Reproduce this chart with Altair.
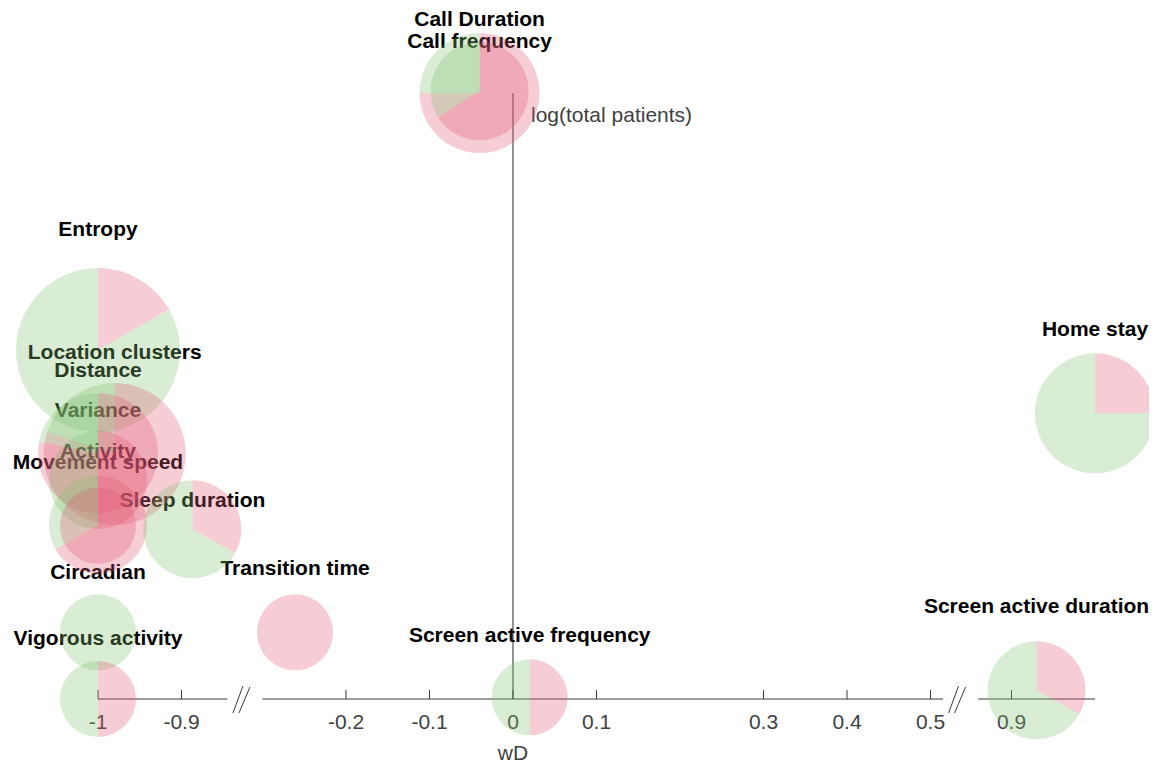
import altair as alt
import pandas as pd

# ---- data ----
names = ["Call frequency", "Call Duration", "Entropy", "Location clusters", "Distance",
         "Variance", "Activity", "Movement speed", "Sleep duration", "Circadian",
         "Vigorous activity", "Transition time", "Screen active frequency",
         "Screen active duration", "Home stay"]
wd = [-0.04, -0.04, -1.0, -0.98, -1.0, -1.0, -1.0, -1.0, -0.887, -1.0,
      -1.0, -0.261, 0.02, 0.93, 1.0]
log_patients = [7.0, 7.02, 4.03, 2.83, 2.84, 2.53, 2.01, 2.0, 1.96, 0.77,
                0.0, 0.77, 0.02, 0.10, 3.30]
n_studies = [3, 2, 5, 4, 3, 2, 2, 1, 2, 1, 1, 1, 1, 2, 3]
pink_share = [0.75, 0.66, 0.167, 0.8, 0.78, 0.5, 0.667, 1.0, 0.33, 0.0,
              0.5, 1.0, 0.5, 0.33, 0.25]
label_y = [7.59, 7.84, 5.42, 4.00, 3.79, 3.33, 2.85, 2.73, 2.29, 1.46,
           0.69, 1.50, 0.73, 1.06, 4.26]

tick_values = [-1, -0.9, -0.2, -0.1, 0, 0.1, 0.3, 0.4, 0.5, 0.9]
tick_labels = ["-1", "-0.9", "-0.2", "-0.1", "0", "0.1", "0.3", "0.4", "0.5", "0.9"]

# broken x axis: kept wD ranges and the gap between them (in wD units)
seg_lo = [-1.0, -0.3, 0.86]
seg_hi = [-0.845, 0.515, 1.0]
GAP = 0.042

shifts = [0.0]
for i in range(1, len(seg_lo)):
    shifts.append(seg_hi[i - 1] + shifts[i - 1] + GAP - seg_lo[i])


def to_display(v):
    for lo, hi, s in zip(seg_lo, seg_hi, shifts):
        if lo - 1e-9 <= v <= hi + 1e-9:
            return v + s
    best = min(range(len(seg_lo)),
               key=lambda i: min(abs(v - seg_lo[i]), abs(v - seg_hi[i])))
    return v + shifts[best]


# ---- tables ----
pie_rows = []
for i, nm in enumerate(names):
    p = pink_share[i]
    base = dict(name=nm, xd=to_display(wd[i]), logp=log_patients[i], n=n_studies[i])
    if p > 0:
        pie_rows.append(dict(base, t0=0.0, t1=p, part="pink"))
    if p < 1:
        pie_rows.append(dict(base, t0=p, t1=1.0, part="green"))
pies = pd.DataFrame(pie_rows)

labels = pd.DataFrame({"name": names, "xd": [to_display(v) for v in wd], "ly": label_y})

ticks = pd.DataFrame({"xd": [to_display(v) for v in tick_values], "lab": tick_labels,
                      "y0": [0] * len(tick_values)})
segs = pd.DataFrame({"x1": [to_display(v) for v in seg_lo],
                     "x2": [to_display(v) for v in seg_hi],
                     "y0": [0] * len(seg_lo)})
breaks = pd.DataFrame({"xd": [(to_display(seg_hi[i]) + to_display(seg_lo[i + 1])) / 2
                              for i in range(len(seg_lo) - 1)],
                       "y0": [0] * (len(seg_lo) - 1)})
yaxis = pd.DataFrame({"xd": [to_display(0.0)], "y0": [0.0], "y1": [7.0]})

xs = alt.Scale(domain=[to_display(seg_lo[0]), to_display(seg_hi[-1])], nice=False, zero=False)
ys = alt.Scale(domain=[0, 7], nice=False, zero=False)
FONT = "Liberation Sans"
AX = "#3a3a3a"

label_layer = alt.Chart(labels).mark_text(
    font=FONT, fontSize=21, fontWeight="bold", color="black", baseline="middle"
).encode(x=alt.X("xd:Q", scale=xs, axis=None), y=alt.Y("ly:Q", scale=ys, axis=None), text="name:N")

seg_layer = alt.Chart(segs).mark_rule(color=AX, strokeWidth=1).encode(
    x=alt.X("x1:Q", scale=xs, axis=None), x2="x2:Q", y=alt.Y("y0:Q", scale=ys, axis=None))

tick_layer = alt.Chart(ticks).mark_rule(color=AX, strokeWidth=1, yOffset=-9, y2Offset=0).encode(
    x=alt.X("xd:Q", scale=xs, axis=None), y=alt.Y("y0:Q", scale=ys, axis=None), y2="y0:Q")

tick_text = alt.Chart(ticks).mark_text(
    font=FONT, fontSize=21, color="#404040", baseline="middle", dy=24
).encode(x=alt.X("xd:Q", scale=xs, axis=None), y=alt.Y("y0:Q", scale=ys, axis=None), text="lab:N")

slash1 = alt.Chart(breaks).mark_rule(color=AX, strokeWidth=1, xOffset=-12, x2Offset=-2,
                                     yOffset=14, y2Offset=-13).encode(
    x=alt.X("xd:Q", scale=xs, axis=None), x2="xd:Q",
    y=alt.Y("y0:Q", scale=ys, axis=None), y2="y0:Q")
slash2 = alt.Chart(breaks).mark_rule(color=AX, strokeWidth=1, xOffset=-6, x2Offset=5,
                                     yOffset=14, y2Offset=-12).encode(
    x=alt.X("xd:Q", scale=xs, axis=None), x2="xd:Q",
    y=alt.Y("y0:Q", scale=ys, axis=None), y2="y0:Q")

y_line = alt.Chart(yaxis).mark_rule(color="#262626", strokeWidth=1).encode(
    x=alt.X("xd:Q", scale=xs, axis=None), y=alt.Y("y0:Q", scale=ys, axis=None), y2="y1:Q")
y_title = alt.Chart(yaxis).mark_text(
    font=FONT, fontSize=21, color="#404040", align="left", baseline="middle", dx=18, dy=23
).encode(x=alt.X("xd:Q", scale=xs, axis=None), y=alt.Y("y1:Q", scale=ys, axis=None),
         text=alt.value("log(total patients)"))
x_title = alt.Chart(yaxis).mark_text(
    font=FONT, fontSize=21, color="#404040", baseline="middle", dy=55
).encode(x=alt.X("xd:Q", scale=xs, axis=None), y=alt.Y("y0:Q", scale=ys, axis=None),
         text=alt.value("wD"))

pie_layer = alt.Chart(pies).mark_arc(opacity=0.3, strokeWidth=0).encode(
    x=alt.X("xd:Q", scale=xs, axis=None),
    y=alt.Y("logp:Q", scale=ys, axis=None),
    theta=alt.Theta("t0:Q", scale=alt.Scale(domain=[0, 1], range=[0, 6.283185307]), stack=None),
    theta2="t1:Q",
    radius=alt.Radius("n:Q", scale=alt.Scale(type="linear", domain=[1, 5], range=[38, 82], zero=False)),
    radius2=alt.value(0),
    color=alt.Color("part:N", scale=alt.Scale(domain=["pink", "green"], range=["#e15873", "#80c070"]),
                    legend=None),
)

chart = alt.layer(
    label_layer, seg_layer, tick_layer, tick_text, slash1, slash2, y_line, y_title, x_title, pie_layer
).properties(
    width=997, height=606,
    autosize=alt.AutoSizeParams(type="none"),
    padding={"left": 90, "top": 85, "right": 54, "bottom": 65},
).configure_view(stroke=None)

chart.save("out.html", embed_options={"renderer": "svg", "actions": False})
